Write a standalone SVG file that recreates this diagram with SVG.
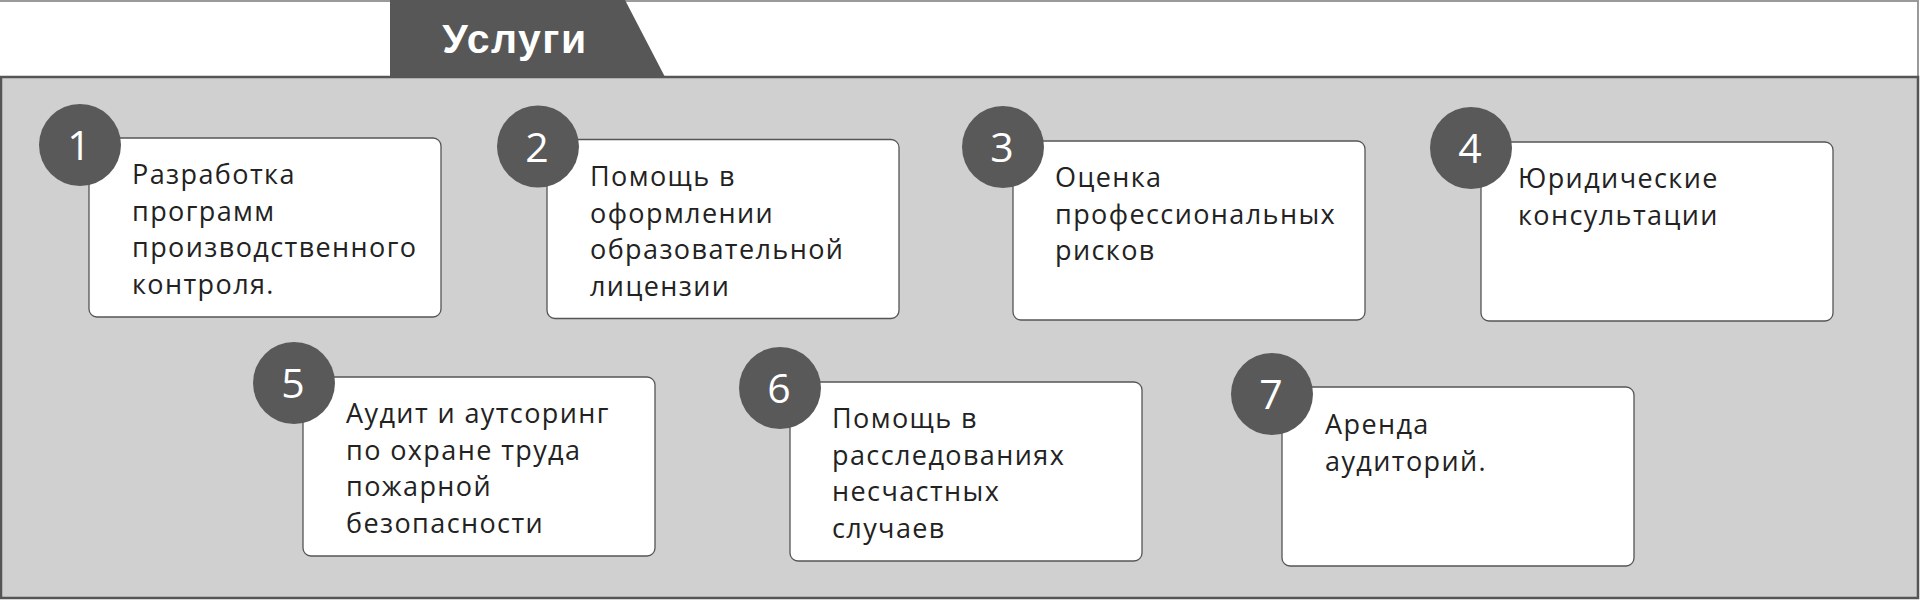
<svg xmlns="http://www.w3.org/2000/svg" width="1920" height="600" viewBox="0 0 1920 600">
<style>
.card{fill:#ffffff;stroke:#555555;stroke-width:1.3}
.badge{fill:#595959}
.num{font-family:"Open Sans","Noto Sans",sans-serif;font-size:41px;fill:#ffffff;text-anchor:middle}
.txt{font-family:"Open Sans","Noto Sans",sans-serif;font-size:27px;fill:#222222;letter-spacing:1.4px}
.title{font-family:"Liberation Sans",Arial,sans-serif;font-weight:bold;font-size:41px;fill:#ffffff;text-anchor:middle;letter-spacing:1.5px}
</style>
<rect x="0" y="0" width="1920" height="600" fill="#ffffff"/>
<rect id="header" x="-2" y="1" width="1920" height="77" fill="#ffffff" stroke="#9a9a9a" stroke-width="2"/>
<rect id="panel" x="1" y="77" width="1917" height="521" fill="#d0d0d0" stroke="#555555" stroke-width="2.5"/>
<g id="tab">
<polygon points="390,0 625,0 665,77 390,77" fill="#575757"/>
<text class="title" x="515" y="53">Услуги</text>
</g>
<g id="connectors"></g>
<g id="node1">
<rect class="card" x="89" y="138" width="352" height="179" rx="8"/>
<circle class="badge" cx="80" cy="145" r="41"/>
<text class="num" x="79" y="160">1</text>
<text class="txt" x="132" y="184"><tspan x="132">Разработка</tspan><tspan x="132" dy="36.5">программ</tspan><tspan x="132" dy="36.5">производственного</tspan><tspan x="132" dy="36.5">контроля.</tspan></text>
</g>
<g id="node2">
<rect class="card" x="547" y="139.5" width="352" height="179" rx="8"/>
<circle class="badge" cx="538" cy="146.5" r="41"/>
<text class="num" x="537" y="161.5">2</text>
<text class="txt" x="590" y="186"><tspan x="590">Помощь в</tspan><tspan x="590" dy="36.5">оформлении</tspan><tspan x="590" dy="36.5">образовательной</tspan><tspan x="590" dy="36.5">лицензии</tspan></text>
</g>
<g id="node3">
<rect class="card" x="1013" y="141" width="352" height="179" rx="8"/>
<circle class="badge" cx="1003" cy="147" r="41"/>
<text class="num" x="1002" y="162">3</text>
<text class="txt" x="1055" y="187"><tspan x="1055">Оценка</tspan><tspan x="1055" dy="36.5">профессиональных</tspan><tspan x="1055" dy="36.5">рисков</tspan></text>
</g>
<g id="node4">
<rect class="card" x="1481" y="142" width="352" height="179" rx="8"/>
<circle class="badge" cx="1471" cy="148" r="41"/>
<text class="num" x="1470" y="163">4</text>
<text class="txt" x="1518" y="188"><tspan x="1518">Юридические</tspan><tspan x="1518" dy="36.5">консультации</tspan></text>
</g>
<g id="node5">
<rect class="card" x="303" y="377" width="352" height="179" rx="8"/>
<circle class="badge" cx="294" cy="383" r="41"/>
<text class="num" x="293" y="398">5</text>
<text class="txt" x="346" y="423"><tspan x="346">Аудит и аутсоринг</tspan><tspan x="346" dy="36.5">по охране труда</tspan><tspan x="346" dy="36.5">пожарной</tspan><tspan x="346" dy="36.5">безопасности</tspan></text>
</g>
<g id="node6">
<rect class="card" x="790" y="382" width="352" height="179" rx="8"/>
<circle class="badge" cx="780" cy="388" r="41"/>
<text class="num" x="779" y="403">6</text>
<text class="txt" x="832" y="428"><tspan x="832">Помощь в</tspan><tspan x="832" dy="36.5">расследованиях</tspan><tspan x="832" dy="36.5">несчастных</tspan><tspan x="832" dy="36.5">случаев</tspan></text>
</g>
<g id="node7">
<rect class="card" x="1282" y="387" width="352" height="179" rx="8"/>
<circle class="badge" cx="1272" cy="394" r="41"/>
<text class="num" x="1271" y="409">7</text>
<text class="txt" x="1325" y="434"><tspan x="1325">Аренда</tspan><tspan x="1325" dy="36.5">аудиторий.</tspan></text>
</g>
</svg>
